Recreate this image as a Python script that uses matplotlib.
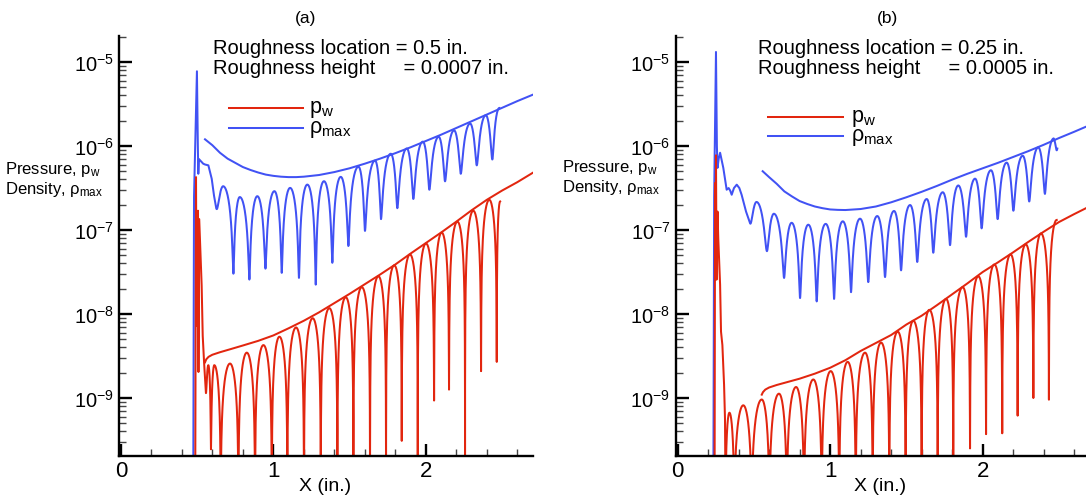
import numpy as np
import matplotlib
matplotlib.use("Agg")
import matplotlib.pyplot as plt
from matplotlib.lines import Line2D
from matplotlib.ticker import LogLocator, MultipleLocator, NullFormatter, FixedLocator

plt.rcParams['font.family'] = ['Liberation Sans', 'DejaVu Sans']
plt.rcParams['mathtext.fontset'] = 'custom'
plt.rcParams['mathtext.rm'] = 'Liberation Sans'
plt.rcParams['mathtext.it'] = 'Liberation Sans:italic'
plt.rcParams['mathtext.bf'] = 'Liberation Sans:bold'

RED = "#e2260f"
BLUE = "#4152f4"
LOW = -10.0  # log10 level for nodes that fall below the plotted range

# Values are stored as log10 of the quantity (log axis readings).

# ---------------- panel (a): roughness at 0.5 in., height 0.0007 in.
a_rho_head_x = [0.475, 0.480, 0.499, 0.505, 0.508, 0.512, 0.525, 0.540, 0.552, 0.574, 0.596, 0.611, 0.624]
a_rho_head_log = [LOW, -6.6, -5.11, -6.0, -6.33, -6.155, -6.18, -6.21, -6.22, -6.23, -6.39, -6.59, -6.73]
a_rho_node_x = [0.624, 0.738, 0.843, 0.948, 1.055, 1.168, 1.278, 1.387, 1.492, 1.601, 1.706, 1.813,
                1.918, 2.023, 2.126, 2.229, 2.334, 2.436]
a_rho_node_log = [-6.73, -7.52, -7.59, -7.46, -7.51, -7.57, -7.65, -7.39, -7.19, -7.01, -6.87, -6.74,
                  -6.63, -6.52, -6.42, -6.33, -6.23, -6.16]
a_rho_peak_x = [0.672, 0.780, 0.895, 1.007, 1.110, 1.223, 1.332, 1.442, 1.558, 1.667, 1.770, 1.875,
                1.980, 2.084, 2.185, 2.290, 2.393, 2.482]
a_rho_peak_log = [-6.49, -6.61, -6.60, -6.54, -6.50, -6.46, -6.42, -6.37, -6.25, -6.18, -6.10, -6.04,
                  -5.96, -5.905, -5.83, -5.75, -5.65, -5.56]
a_rho_env_x = [0.552, 0.60, 0.65, 0.70, 0.75, 0.80, 0.85, 0.90, 0.95, 1.00, 1.05, 1.10, 1.15, 1.20,
               1.30, 1.40, 1.50, 1.60, 1.70, 1.80, 1.90, 2.00, 2.10, 2.20, 2.30, 2.40, 2.50, 2.60, 2.70]
a_rho_env_log = [-5.92, -5.99, -6.08, -6.15, -6.20, -6.25, -6.285, -6.315, -6.34, -6.355, -6.365, -6.37,
                 -6.37, -6.365, -6.345, -6.31, -6.265, -6.21, -6.15, -6.085, -6.015, -5.94, -5.865,
                 -5.785, -5.705, -5.625, -5.545, -5.465, -5.39]

a_p_head_x = [0.488, 0.493, 0.497, 0.506, 0.509, 0.514, 0.530, 0.537, 0.546, 0.557]
a_p_head_log = [LOW, -6.37, -8.14, -6.77, -8.69, -6.87, -7.66, -8.26, -8.58, -8.93]
a_p_node_x = [0.557, 0.591, 0.655, 0.771, 0.880, 0.990, 1.092, 1.201, 1.311, 1.420, 1.525, 1.634,
              1.739, 1.842, 1.947, 2.054, 2.152, 2.257, 2.362, 2.465]
a_p_node_log = [-8.93, -9.61, LOW, LOW, LOW, LOW, LOW, LOW, LOW, LOW, LOW, LOW,
                LOW, -9.51, LOW, -9.03, -8.90, LOW, -8.68, -8.57]
a_p_peak_x = [0.574, 0.613, 0.716, 0.826, 0.935, 1.040, 1.149, 1.258, 1.367, 1.475, 1.580, 1.689,
              1.793, 1.896, 2.001, 2.104, 2.207, 2.311, 2.416, 2.487]
a_p_peak_log = [-8.62, -8.61, -8.59, -8.46, -8.37, -8.27, -8.16, -8.05, -7.93, -7.80, -7.68, -7.55,
                -7.42, -7.29, -7.16, -7.03, -6.90, -6.77, -6.64, -6.66]
a_p_env_x = [0.552, 0.560, 0.575, 0.600, 0.65, 0.716, 0.80, 0.90, 1.00, 1.10, 1.20, 1.30, 1.40, 1.50,
             1.60, 1.70, 1.80, 1.90, 2.00, 2.10, 2.20, 2.30, 2.40, 2.50, 2.60, 2.70]
a_p_env_log = [-8.575, -8.54, -8.51, -8.485, -8.455, -8.42, -8.375, -8.32, -8.255, -8.17, -8.08, -7.98,
               -7.87, -7.76, -7.645, -7.53, -7.41, -7.28, -7.155, -7.03, -6.90, -6.765, -6.64, -6.53,
               -6.43, -6.32]

# ---------------- panel (b): roughness at 0.25 in., height 0.0005 in.
b_rho_head_x = [0.235, 0.240, 0.252, 0.258, 0.262, 0.270, 0.279, 0.300, 0.322, 0.335, 0.345, 0.355,
                0.370, 0.388, 0.405, 0.420, 0.449, 0.475]
b_rho_head_log = [LOW, -6.6, -4.88, -6.0, -6.26, -6.15, -6.08, -6.26, -6.52, -6.50, -6.53, -6.58,
                  -6.50, -6.46, -6.50, -6.58, -6.78, -6.92]
b_rho_node_x = [0.475, 0.585, 0.698, 0.803, 0.912, 1.026, 1.137, 1.250, 1.360, 1.465, 1.571, 1.676,
                1.786, 1.891, 1.993, 2.098, 2.201, 2.305, 2.408, 2.489]
b_rho_node_log = [-6.92, -7.25, -7.57, -7.81, -7.85, -7.82, -7.74, -7.62, -7.56, -7.48, -7.38, -7.27,
                  -7.18, -7.08, -6.98, -6.87, -6.77, -6.66, -6.57, -6.03]
b_rho_peak_x = [0.519, 0.632, 0.748, 0.857, 0.971, 1.083, 1.196, 1.309, 1.419, 1.524, 1.633, 1.738,
                1.840, 1.950, 2.054, 2.157, 2.262, 2.364, 2.463]
b_rho_peak_log = [-6.70, -6.82, -6.92, -6.94, -6.93, -6.90, -6.87, -6.84, -6.78, -6.71, -6.64, -6.56,
                  -6.48, -6.40, -6.30, -6.21, -6.13, -6.03, -5.95]
b_rho_env_x = [0.558, 0.60, 0.65, 0.70, 0.75, 0.80, 0.85, 0.90, 0.95, 1.00, 1.05, 1.10, 1.20, 1.30,
               1.40, 1.50, 1.60, 1.70, 1.80, 1.90, 2.00, 2.10, 2.20, 2.30, 2.40, 2.50, 2.60, 2.677]
b_rho_env_log = [-6.30, -6.37, -6.45, -6.54, -6.60, -6.655, -6.69, -6.72, -6.74, -6.755, -6.76, -6.762,
                 -6.75, -6.72, -6.67, -6.61, -6.545, -6.475, -6.40, -6.33, -6.265, -6.20, -6.13, -6.06,
                 -5.985, -5.905, -5.83, -5.77]

b_p_head_x = [0.243, 0.246, 0.249, 0.252, 0.256, 0.262, 0.267, 0.279, 0.285, 0.294, 0.305, 0.311, 0.314]
b_p_head_log = [LOW, -6.44, -7.59, -6.11, -7.59, -6.78, -7.10, -7.65, -8.21, -8.37, -8.84, -9.24, LOW]
b_p_node_x = [0.314, 0.372, 0.486, 0.602, 0.716, 0.829, 0.945, 1.060, 1.168, 1.279, 1.388, 1.495,
              1.600, 1.705, 1.807, 1.917, 2.022, 2.128, 2.229, 2.332, 2.434]
b_p_node_log = [LOW, LOW, LOW, LOW, LOW, LOW, LOW, LOW, LOW, LOW, LOW, LOW,
                LOW, LOW, LOW, -9.60, -9.43, -9.42, -9.21, -9.00, -9.02]
b_p_peak_x = [0.340, 0.431, 0.552, 0.665, 0.777, 0.890, 1.004, 1.115, 1.229, 1.334, 1.443, 1.545,
              1.650, 1.760, 1.869, 1.971, 2.076, 2.183, 2.282, 2.382, 2.485]
b_p_peak_log = [-9.18, -9.09, -9.02, -8.95, -8.87, -8.78, -8.68, -8.57, -8.46, -8.34, -8.21, -8.08,
                -7.95, -7.82, -7.68, -7.55, -7.41, -7.29, -7.17, -7.04, -6.88]
b_p_env_x = [0.552, 0.560, 0.575, 0.600, 0.65, 0.70, 0.80, 0.90, 1.00, 1.10, 1.20, 1.30, 1.40, 1.50,
             1.60, 1.70, 1.80, 1.90, 2.00, 2.10, 2.20, 2.30, 2.40, 2.50, 2.60, 2.677]
b_p_env_log = [-8.96, -8.93, -8.90, -8.875, -8.845, -8.82, -8.77, -8.71, -8.64, -8.55, -8.44, -8.345,
               -8.25, -8.125, -8.02, -7.895, -7.765, -7.635, -7.50, -7.385, -7.265, -7.14, -7.02,
               -6.905, -6.81, -6.74]

y_major_ticks = [1e-9, 1e-8, 1e-7, 1e-6, 1e-5]

W, H = 1086.0, 502.0


def fx(px):
    return px / W


def fy(py):
    return 1.0 - py / H


def wave_path(head_x, head_log, node_x, node_log, peak_x, peak_log, n=90):
    """Oscillating |signal| drawn lobe by lobe between its nodes (cusps) and crests."""
    xs = [np.asarray(head_x, float)]
    vs = [10.0 ** np.asarray(head_log, float)]
    u = np.linspace(0.0, 1.0, n)
    for i in range(len(peak_x)):
        xl, dl = node_x[i], 10.0 ** node_log[i]
        xp, p = peak_x[i], 10.0 ** peak_log[i]
        if i + 1 < len(node_x):
            xr, dr = node_x[i + 1], 10.0 ** node_log[i + 1]
            s = 0.5 * (1 - np.cos(np.pi * u))
        else:  # last crest: curve stops at the crest
            xr, dr = xp, dl
            s = 0.5 * (1 - np.cos(0.5 * np.pi * u))
        x = np.where(s <= 0.5, xl + (xp - xl) * s / 0.5, xp + (xr - xp) * (s - 0.5) / 0.5)
        d = dl ** (1 - s) * dr ** s
        v = np.sqrt((p * np.sin(np.pi * s)) ** 2 + d ** 2)
        xs.append(x[1:])
        vs.append(v[1:])
    return np.concatenate(xs), np.concatenate(vs)


panels = [
    dict(left=119.3, right=532.6, xmax=2.70,
         rho=(a_rho_head_x, a_rho_head_log, a_rho_node_x, a_rho_node_log, a_rho_peak_x, a_rho_peak_log),
         rho_env=(a_rho_env_x, a_rho_env_log),
         p=(a_p_head_x, a_p_head_log, a_p_node_x, a_p_node_log, a_p_peak_x, a_p_peak_log),
         p_env=(a_p_env_x, a_p_env_log),
         title="(a)", title_x=306,
         note=["Roughness location = 0.5 in.", "Roughness height     = 0.0007 in."], note_x=213,
         leg_x=(229, 303), leg_y=(109, 129), leg_text_x=309,
         ylab_x=5, ylab_y=(174, 194), xlab_x=325),
    dict(left=676.0, right=1086.0, xmax=2.677,
         rho=(b_rho_head_x, b_rho_head_log, b_rho_node_x, b_rho_node_log, b_rho_peak_x, b_rho_peak_log),
         rho_env=(b_rho_env_x, b_rho_env_log),
         p=(b_p_head_x, b_p_head_log, b_p_node_x, b_p_node_log, b_p_peak_x, b_p_peak_log),
         p_env=(b_p_env_x, b_p_env_log),
         title="(b)", title_x=888,
         note=["Roughness location = 0.25 in.", "Roughness height     = 0.0005 in."], note_x=758,
         leg_x=(768, 843), leg_y=(118, 137), leg_text_x=851,
         ylab_x=562, ylab_y=(172, 192), xlab_x=880),
]

fig = plt.figure(figsize=(W / 100, H / 100), dpi=100)
AX_TOP, AX_BOT = 37.0, 457.3
LW = 1.45

for P in panels:
    ax = fig.add_axes([fx(P['left']), fy(AX_BOT), fx(P['right']) - fx(P['left']), (AX_BOT - AX_TOP) / H])
    ax.set_yscale('log')
    ax.set_ylim(10 ** -9.694, 10 ** -4.69)
    ax.set_xlim(-0.01, P['xmax'])

    for key, col in (('rho', BLUE), ('p', RED)):
        x, v = wave_path(*P[key])
        ax.plot(x, v, color=col, lw=LW, solid_joinstyle='round')
        ex, el = P[key + '_env']
        ax.plot(ex, 10.0 ** np.asarray(el), color=col, lw=LW)

    for s in ('top', 'right'):
        ax.spines[s].set_visible(False)
    for s in ('left', 'bottom'):
        ax.spines[s].set_linewidth(1.7)
    ax.xaxis.set_major_locator(MultipleLocator(1))
    ax.xaxis.set_minor_locator(MultipleLocator(0.2))
    ax.yaxis.set_major_locator(FixedLocator(y_major_ticks))
    ax.yaxis.set_minor_locator(LogLocator(base=10, subs=np.arange(2, 10), numticks=20))
    ax.yaxis.set_minor_formatter(NullFormatter())
    ax.tick_params(which='both', direction='in', top=False, right=False)
    ax.tick_params(which='major', length=9, width=1.7)
    ax.tick_params(which='minor', length=5, width=1.0, color='#444444')
    ax.tick_params(axis='x', which='major', labelsize=16, pad=3)
    ax.tick_params(axis='y', which='major', labelsize=14.5, pad=4)

    fig.text(fx(P['title_x']), fy(19), P['title'], fontsize=12.5, ha='center', va='center')
    fig.text(fx(P['note_x']), fy(53.5), P['note'][0], fontsize=14.5, va='baseline')
    fig.text(fx(P['note_x']), fy(74), P['note'][1], fontsize=14.5, va='baseline')

    lx0, lx1 = P['leg_x']
    for yy, col in zip(P['leg_y'], (RED, BLUE)):
        fig.add_artist(Line2D([fx(lx0), fx(lx1)], [fy(yy), fy(yy)], color=col, lw=LW))
    fig.text(fx(P['leg_text_x']), fy(P['leg_y'][0] + 4), r"p$_\mathregular{w}$", fontsize=15.5, va='baseline')
    fig.text(fx(P['leg_text_x']), fy(P['leg_y'][1] + 4), r"ρ$_\mathregular{max}$", fontsize=15.5, va='baseline')

    fig.text(fx(P['ylab_x']), fy(P['ylab_y'][0]), r"Pressure, p$_\mathregular{w}$", fontsize=12, va='baseline')
    fig.text(fx(P['ylab_x']), fy(P['ylab_y'][1]), r"Density, ρ$_\mathregular{max}$", fontsize=12, va='baseline')
    fig.text(fx(P['xlab_x']), fy(491), "X (in.)", fontsize=14, ha='center', va='baseline')

fig.savefig("out.png", dpi=100)
